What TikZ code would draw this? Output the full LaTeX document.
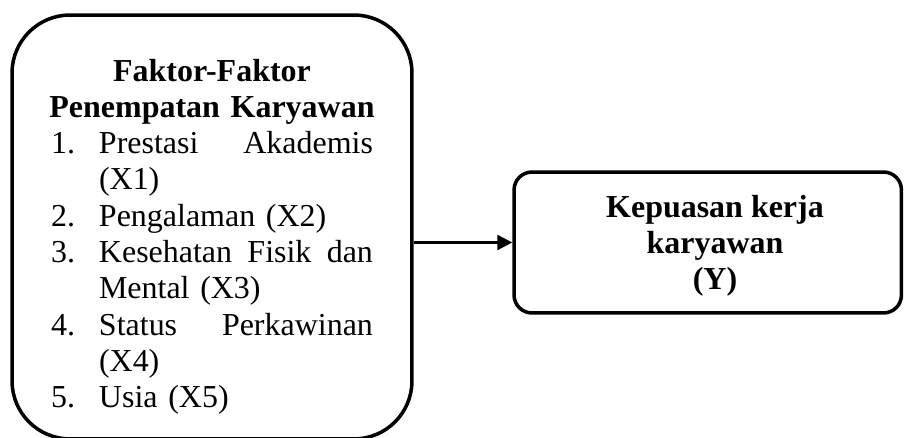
\documentclass[tikz,border=0pt]{standalone}
\usepackage{fontspec}
\setmainfont{Liberation Serif}
\usetikzlibrary{arrows.meta}
\setlength{\parindent}{0pt}
\newcommand{\butir}[2]{\hangindent=0.96cm\hangafter=1\noindent\makebox[0.96cm][l]{#1}#2\par}
\newcommand{\judul}[1]{\noindent\makebox[\linewidth][c]{\bfseries #1}\par}
\begin{document}
\begin{tikzpicture}[x=0.02cm,y=-0.02cm,
  kotak/.style={draw,line width=2pt,inner sep=0pt},
  teks/.style={font=\fontsize{18.2pt}{20.66pt}\selectfont},
  tebal/.style={font=\fontsize{18.2pt}{20.66pt}\selectfont\bfseries}]
  \useasboundingbox (0,0) rectangle (904,438);
  \node[kotak,teks,rounded corners=1.16cm,minimum width=8cm,minimum height=8.48cm,text width=6.44cm](faktor) at (212,227) {%
    \vspace*{3pt}
    \judul{Faktor-Faktor}
    \judul{Penempatan Karyawan}
    \butir{1.}{Prestasi\hfill Akademis\newline(X1)}
    \butir{2.}{Pengalaman (X2)}
    \butir{3.}{Kesehatan\hfill Fisik\hfill dan\newline Mental (X3)}
    \butir{4.}{Status\hfill Perkawinan\newline(X4)}
    \butir{5.}{Usia (X5)}};
  \node[kotak,rounded corners=0.36cm,minimum width=7.75cm,minimum height=2.82cm](kepuasan) at (707.75,242.5) {};
  \node[tebal,align=center](kepuasanteks) at (715,246) {Kepuasan kerja\\karyawan\\(Y)};
  \draw[line width=1.3pt,-{Triangle[length=0.3cm,width=0.3cm]}] (faktor.east |- kepuasan.west) -- (kepuasan.west);
  % \draw (faktor.south) node[below]{};
\end{tikzpicture}
\end{document}
